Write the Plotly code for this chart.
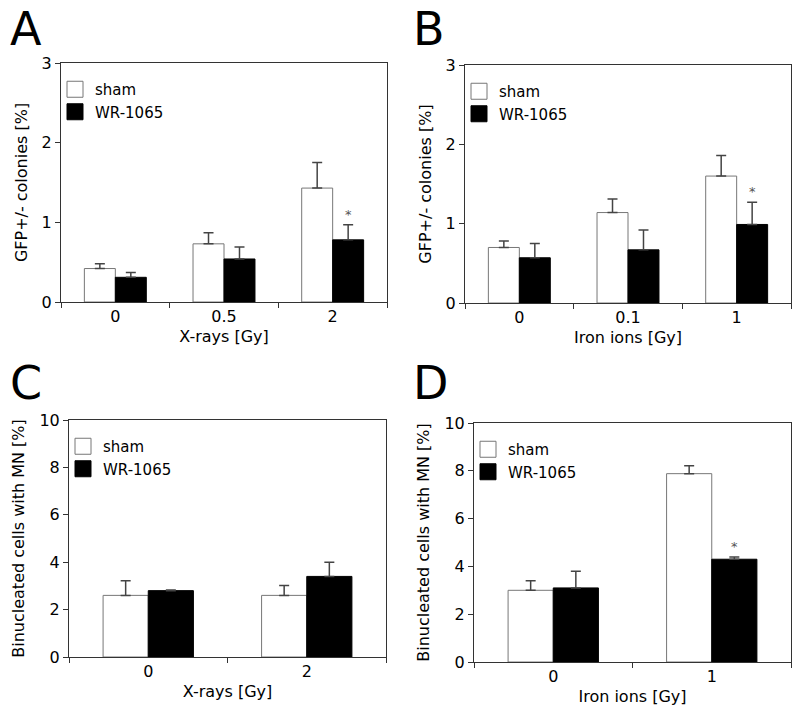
import plotly.graph_objects as go
from plotly.subplots import make_subplots

# Panel A: X-rays, GFP+/- colonies
xray_doses_a = ["0", "0.5", "2"]
sham_a = [0.42, 0.73, 1.43]
sham_err_a = [0.06, 0.14, 0.32]
wr_a = [0.31, 0.54, 0.78]
wr_err_a = [0.06, 0.15, 0.19]
signif_a = [False, False, True]

# Panel B: Iron ions, GFP+/- colonies
iron_doses_b = ["0", "0.1", "1"]
sham_b = [0.70, 1.14, 1.60]
sham_err_b = [0.08, 0.17, 0.26]
wr_b = [0.57, 0.67, 0.99]
wr_err_b = [0.18, 0.25, 0.28]
signif_b = [False, False, True]

# Panel C: X-rays, micronuclei
xray_doses_c = ["0", "2"]
sham_c = [2.6, 2.6]
sham_err_c = [0.62, 0.42]
wr_c = [2.8, 3.4]
wr_err_c = [0.03, 0.6]
signif_c = [False, False]

# Panel D: Iron ions, micronuclei
iron_doses_d = ["0", "1"]
sham_d = [3.0, 7.88]
sham_err_d = [0.4, 0.33]
wr_d = [3.1, 4.3]
wr_err_d = [0.7, 0.09]
signif_d = [False, True]

W, H = 800, 715
FONT = "DejaVu Sans"
FRAME = "#333333"
BARGAP = 0.43


def px_x(p):
    return p / W


def px_y(p):
    return 1 - p / H


panels = [
    dict(row=1, col=1, cats=xray_doses_a, sham=sham_a, se=sham_err_a, wr=wr_a, we=wr_err_a, sig=signif_a,
         xt="X-rays [Gy]", yt="GFP+/- colonies [%]", ymax=3, dtick=1, box=(61, 387, 63, 302), letter="A"),
    dict(row=1, col=2, cats=iron_doses_b, sham=sham_b, se=sham_err_b, wr=wr_b, we=wr_err_b, sig=signif_b,
         xt="Iron ions [Gy]", yt="GFP+/- colonies [%]", ymax=3, dtick=1, box=(465, 791, 65, 303), letter="B"),
    dict(row=2, col=1, cats=xray_doses_c, sham=sham_c, se=sham_err_c, wr=wr_c, we=wr_err_c, sig=signif_c,
         xt="X-rays [Gy]", yt="Binucleated cells with MN [%]", ymax=10, dtick=2, box=(69, 386, 420, 657), letter="C"),
    dict(row=2, col=2, cats=iron_doses_d, sham=sham_d, se=sham_err_d, wr=wr_d, we=wr_err_d, sig=signif_d,
         xt="Iron ions [Gy]", yt="Binucleated cells with MN [%]", ymax=10, dtick=2, box=(474, 791, 423, 662), letter="D"),
]

fig = make_subplots(rows=2, cols=2)

for i, p in enumerate(panels):
    leg = "legend" if i == 0 else f"legend{i + 1}"
    fig.add_trace(go.Bar(
        x=p["cats"], y=p["sham"], name="sham", showlegend=False,
        marker=dict(color="white", line=dict(color="#777777", width=1)),
        error_y=dict(type="data", array=p["se"], arrayminus=[0] * len(p["se"]), symmetric=False,
                     color="#444444", thickness=1.5, width=5),
    ), row=p["row"], col=p["col"])
    fig.add_trace(go.Bar(
        x=p["cats"], y=p["wr"], name="WR-1065", showlegend=False,
        marker=dict(color="black", line=dict(color="black", width=1)),
        error_y=dict(type="data", array=p["we"], arrayminus=[0] * len(p["we"]), symmetric=False,
                     color="#444444", thickness=1.5, width=5),
    ), row=p["row"], col=p["col"])
    # legend proxies with bigger squares
    fig.add_trace(go.Scatter(
        x=[None], y=[None], mode="markers", name="sham", legend=leg,
        marker=dict(symbol="square", size=16, color="white", line=dict(color="#777777", width=1)),
    ), row=p["row"], col=p["col"])
    fig.add_trace(go.Scatter(
        x=[None], y=[None], mode="markers", name="WR-1065", legend=leg,
        marker=dict(symbol="square", size=16, color="black", line=dict(color="black", width=1)),
    ), row=p["row"], col=p["col"])

    x0, x1, y0, y1 = p["box"]
    xa = "xaxis" if i == 0 else f"xaxis{i + 1}"
    ya = "yaxis" if i == 0 else f"yaxis{i + 1}"
    fig.update_layout({
        xa: dict(domain=[px_x(x0), px_x(x1)], showline=True, mirror=True, linecolor=FRAME, linewidth=1,
                 ticks="outside", ticklen=5, tickcolor=FRAME, tickson="boundaries",
                 showgrid=False, zeroline=False, automargin=False,
                 title=dict(text=p["xt"], font=dict(size=16, family=FONT, color="black"), standoff=5),
                 tickfont=dict(size=16, family=FONT, color="black")),
        ya: dict(domain=[px_y(y1), px_y(y0)], range=[0, p["ymax"]], dtick=p["dtick"],
                 showline=True, mirror=True, linecolor=FRAME, linewidth=1, automargin=False,
                 ticks="outside", ticklen=5, tickcolor=FRAME, showgrid=False, zeroline=False,
                 title=dict(text=p["yt"], font=dict(size=16, family=FONT, color="black"), standoff=10),
                 tickfont=dict(size=16, family=FONT, color="black")),
        leg: dict(x=px_x(x0 - 6), y=px_y(y0 + 10), xanchor="left", yanchor="top",
                  bgcolor="rgba(0,0,0,0)", font=dict(size=15, family=FONT, color="black"),
                  tracegroupgap=0, itemwidth=30),
    })

    xref = "x" if i == 0 else f"x{i + 1}"
    yref = "y" if i == 0 else f"y{i + 1}"
    wr_shift = (1 - BARGAP) / 4
    for k, (v, e, s) in enumerate(zip(p["wr"], p["we"], p["sig"])):
        if s:
            fig.add_annotation(x=k + wr_shift, y=v + e, xref=xref, yref=yref, text="*", showarrow=False,
                               yanchor="bottom", yshift=1,
                               font=dict(size=13, family=FONT, color="#555555"))

    fig.add_annotation(x=px_x(8 if p["col"] == 1 else 411), y=px_y(29 if p["row"] == 1 else 383),
                       xref="paper", yref="paper", xanchor="left", yanchor="middle",
                       text=p["letter"], showarrow=False,
                       font=dict(size=46, family=FONT, color="black"))

fig.update_layout(
    width=W, height=H,
    margin=dict(l=0, r=0, t=0, b=0),
    paper_bgcolor="white", plot_bgcolor="white",
    barmode="group", bargap=BARGAP, bargroupgap=0,
    font=dict(family=FONT, color="black"),
)

fig.write_html("out.html", config={"displayModeBar": False},
               post_script="document.body.style.margin='0';")
